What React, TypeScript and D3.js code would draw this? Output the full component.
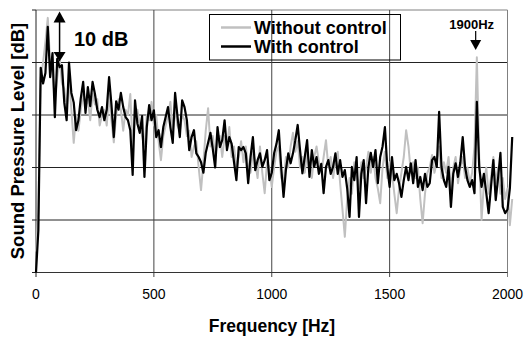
import React, { useRef, useEffect } from "react";
import { select, scaleLinear, line } from "d3";

const width = 524;
const height = 338;

// spectrum, one value every 10 Hz starting at 0 Hz (dB, relative)
const FREQ_STEP = 10;

const withoutControl = [
  4, 12, 37, 40, 44, 48.5, 40, 38, 33, 37, 41, 36, 35, 31, 37, 31, 24.7, 30, 27, 31,
  34, 32, 33, 29, 34, 32, 33, 28, 30, 31, 28, 34, 29, 24.8, 30, 33, 31, 27, 31, 30,
  34, 24, 30, 31, 28, 26, 24, 30, 29, 32.5, 28, 30, 25, 21.4, 26, 28, 30, 32.5, 27, 31,
  28, 27, 30, 29, 26, 27, 22, 24, 25, 20, 15.7, 21, 27, 31.3, 24, 26, 22, 25, 26, 22,
  26, 24, 27.7, 22, 24, 20, 22, 25, 21, 24, 20, 19, 23, 21, 18, 24, 19, 15.1, 21, 20,
  16.3, 20, 23, 24, 18, 17, 22, 20, 24, 26.6, 23, 25, 20, 22, 19, 23, 21, 18, 22, 24,
  21, 19, 22, 25.2, 20, 22, 18, 21, 23, 17, 12, 6.8, 14, 18, 15, 21, 19, 16, 21, 18,
  20, 23, 19, 22, 18, 16, 13.2, 20, 23, 18, 21, 19, 15, 11.3, 16, 19, 22, 27.1, 24, 19,
  21, 18, 20, 14, 9.4, 15, 19, 20, 22.4, 19, 21, 24, 18, 21, 19, 22, 16, 20, 22, 17,
  20, 22, 18, 20, 17, 19, 24, 41, 22, 10, 17, 20, 15, 18, 22, 17, 20, 15, 18, 14,
  16, 9, 14,
];

const withControl = [
  0, 8, 39, 36, 38, 46.8, 37.2, 41.8, 29.6, 40.7, 39.1, 39.5, 32.3, 29, 40, 34.2, 32.4, 27.1, 29, 33.2,
  36.3, 30.4, 35.3, 31.7, 36.3, 34, 31, 29.6, 31.5, 29, 31, 37.2, 32, 25.8, 32.6, 31, 34.2, 31.5, 29.6, 29,
  27.1, 18.6, 32.8, 28.4, 26.6, 29.8, 18.2, 27.7, 31.9, 29, 30.9, 25.8, 27.1, 23.9, 27.7, 29.6, 31.5, 27.7, 24.7, 34.2,
  29.8, 25.8, 32.8, 31.5, 29, 23.3, 25.8, 27.1, 22.7, 22, 21, 19, 22.8, 24.7, 26.6, 23.5, 20, 27.7, 23.9, 25.2,
  29, 23.3, 25.8, 24.5, 21, 17.6, 23.9, 23.3, 23.9, 22.7, 17, 22, 25.8, 19.5, 21.4, 22.7, 20.1, 21.4, 23.3, 17.6,
  19, 22.7, 24.5, 27.1, 20.1, 14.4, 19.5, 22.7, 20.8, 22.7, 25.2, 28.1, 23.3, 18.9, 22, 25.2, 18.2, 23.3, 20.1, 22,
  18.8, 20.7, 15.1, 20.1, 21.4, 18.8, 20.1, 22.7, 18.8, 21.4, 18.2, 19.5, 16, 10.6, 20.1, 17.6, 22, 10.6, 18.8, 21.4,
  13.2, 20.1, 22.8, 20.1, 23.3, 17, 22, 24, 27.7, 20.1, 16.3, 22, 17.6, 18.8, 17, 14.4, 17.6, 20.1, 17.6, 20.8,
  17, 21.4, 16.3, 18.2, 15.7, 18.8, 16.3, 17, 21.4, 22, 20.1, 30.6, 20.1, 17.6, 16.3, 20.1, 12.5, 18.8, 20.8, 18.2,
  21, 25.8, 20.1, 17.6, 16.3, 17.6, 15.1, 32.5, 20.1, 16.3, 18.8, 15.1, 11.3, 16.3, 21.4, 13.8, 18, 22.8, 12.5, 11.3,
  12, 16, 25.8,
];

const xTicks = [0, 500, 1000, 1500, 2000];
const yGrid = [10, 20, 30, 40, 50];
const legendLabels = ["Without control", "With control"];
const seriesColors = ["#c0c0c0", "#000000"];

const FONT = "'Liberation Sans', Arial, Helvetica, sans-serif";

function SpectrumChart() {
  const svgRef = useRef<SVGSVGElement>(null);

  useEffect(() => {
    const svg = select(svgRef.current);
    svg.selectAll("*").remove();

    // plot area
    const x = scaleLinear().domain([0, 2000]).range([36, 507.5]);
    const y = scaleLinear().domain([0, 50]).range([272.5, 10]);

    // horizontal grid (the top one is the plot border)
    svg
      .selectAll(".hgrid")
      .data(yGrid)
      .join("line")
      .attr("class", "hgrid")
      .attr("x1", x(0))
      .attr("x2", x(2000))
      .attr("y1", (d) => y(d))
      .attr("y2", (d) => y(d))
      .attr("stroke", (d) => (d === 50 ? "#808080" : "#222"))
      .attr("stroke-width", 1);

    // vertical grid, reaching a little below the axis as tick marks
    svg
      .selectAll(".vgrid")
      .data(xTicks.slice(1))
      .join("line")
      .attr("class", "vgrid")
      .attr("x1", (d) => x(d))
      .attr("x2", (d) => x(d))
      .attr("y1", y(50))
      .attr("y2", y(0) + 4.5)
      .attr("stroke", (d) => (d === 2000 ? "#808080" : "#444"))
      .attr("stroke-width", 1);

    // axes
    svg
      .append("line")
      .attr("x1", x(0))
      .attr("x2", x(2000))
      .attr("y1", y(0))
      .attr("y2", y(0))
      .attr("stroke", "#333");
    svg
      .append("line")
      .attr("x1", x(0))
      .attr("x2", x(0))
      .attr("y1", y(0) + 4.5)
      .attr("y2", y(50))
      .attr("stroke", "#222");
    svg
      .selectAll(".ytick")
      .data([0, ...yGrid])
      .join("line")
      .attr("class", "ytick")
      .attr("x1", x(0) - 4)
      .attr("x2", x(0))
      .attr("y1", (d) => y(d))
      .attr("y2", (d) => y(d))
      .attr("stroke", "#222");

    // x tick labels
    svg
      .selectAll(".xlabel")
      .data(xTicks)
      .join("text")
      .attr("class", "xlabel")
      .attr("x", (d) => x(d))
      .attr("y", 299)
      .attr("text-anchor", "middle")
      .attr("font-family", FONT)
      .attr("font-size", 14)
      .text((d) => d);

    // series, without control underneath
    const path = line<number>()
      .x((d, i) => x(i * FREQ_STEP))
      .y((d) => y(d));

    svg
      .selectAll(".series")
      .data([withoutControl, withControl])
      .join("path")
      .attr("class", "series")
      .attr("d", (d) => path(d))
      .attr("fill", "none")
      .attr("stroke", (d, i) => seriesColors[i])
      .attr("stroke-width", (d, i) => (i === 0 ? 2 : 2.2))
      .attr("stroke-linejoin", "round");

    // legend (no fill, the grid shows through)
    svg
      .append("rect")
      .attr("x", 209.5)
      .attr("y", 14.5)
      .attr("width", 191)
      .attr("height", 45.5)
      .attr("fill", "none")
      .attr("stroke", "#000");
    const legend = svg
      .selectAll(".legend")
      .data(legendLabels)
      .join("g")
      .attr("class", "legend")
      .attr("transform", (d, i) => `translate(0, ${i * 19})`);
    legend
      .append("line")
      .attr("x1", 221)
      .attr("x2", 251)
      .attr("y1", 27.5)
      .attr("y2", 27.5)
      .attr("stroke", (d, i) => seriesColors[i])
      .attr("stroke-width", 2.5);
    legend
      .append("text")
      .attr("x", 254)
      .attr("y", 33.5)
      .attr("font-family", FONT)
      .attr("font-weight", "bold")
      .attr("font-size", 18)
      .text((d) => d);

    // 10 dB double arrow
    const ax = x(100);
    svg
      .append("line")
      .attr("x1", ax)
      .attr("x2", ax)
      .attr("y1", y(48))
      .attr("y2", y(42))
      .attr("stroke", "#000")
      .attr("stroke-width", 1.5);
    svg
      .append("path")
      .attr("d", `M${ax},${y(49.7)} L${ax - 6},${y(47.6)} L${ax + 6},${y(47.6)} Z`)
      .attr("fill", "#000");
    svg
      .append("path")
      .attr("d", `M${ax},${y(40.2)} L${ax - 6},${y(42)} L${ax + 6},${y(42)} Z`)
      .attr("fill", "#000");
    svg
      .append("text")
      .attr("x", 74)
      .attr("y", 45.5)
      .attr("font-family", FONT)
      .attr("font-weight", "bold")
      .attr("font-size", 20)
      .text("10 dB");

    // 1900Hz marker
    const px = x(1865);
    svg
      .append("line")
      .attr("x1", px)
      .attr("x2", px)
      .attr("y1", 31)
      .attr("y2", 41)
      .attr("stroke", "#000")
      .attr("stroke-width", 1.2);
    svg
      .append("path")
      .attr("d", `M${px - 5.5},40 L${px + 5.5},40 L${px},50 Z`)
      .attr("fill", "#000");
    svg
      .append("text")
      .attr("x", px - 4)
      .attr("y", 29)
      .attr("text-anchor", "middle")
      .attr("font-family", FONT)
      .attr("font-weight", "bold")
      .attr("font-size", 13)
      .text("1900Hz");

    // axis titles
    svg
      .append("text")
      .attr("x", 272)
      .attr("y", 332)
      .attr("text-anchor", "middle")
      .attr("font-family", FONT)
      .attr("font-weight", "bold")
      .attr("font-size", 17.5)
      .text("Frequency [Hz]");
    svg
      .append("text")
      .attr("transform", "translate(23.5, 141) rotate(-90)")
      .attr("text-anchor", "middle")
      .attr("font-family", FONT)
      .attr("font-weight", "bold")
      .attr("font-size", 18.5)
      .text("Sound Pressure Level [dB]");
  }, []);

  return (
    <svg
      ref={svgRef}
      width={width}
      height={height}
      style={{ position: "absolute", left: 0, top: 0, background: "#fff" }}
    />
  );
}

export default function App() {
  return <SpectrumChart />;
}
